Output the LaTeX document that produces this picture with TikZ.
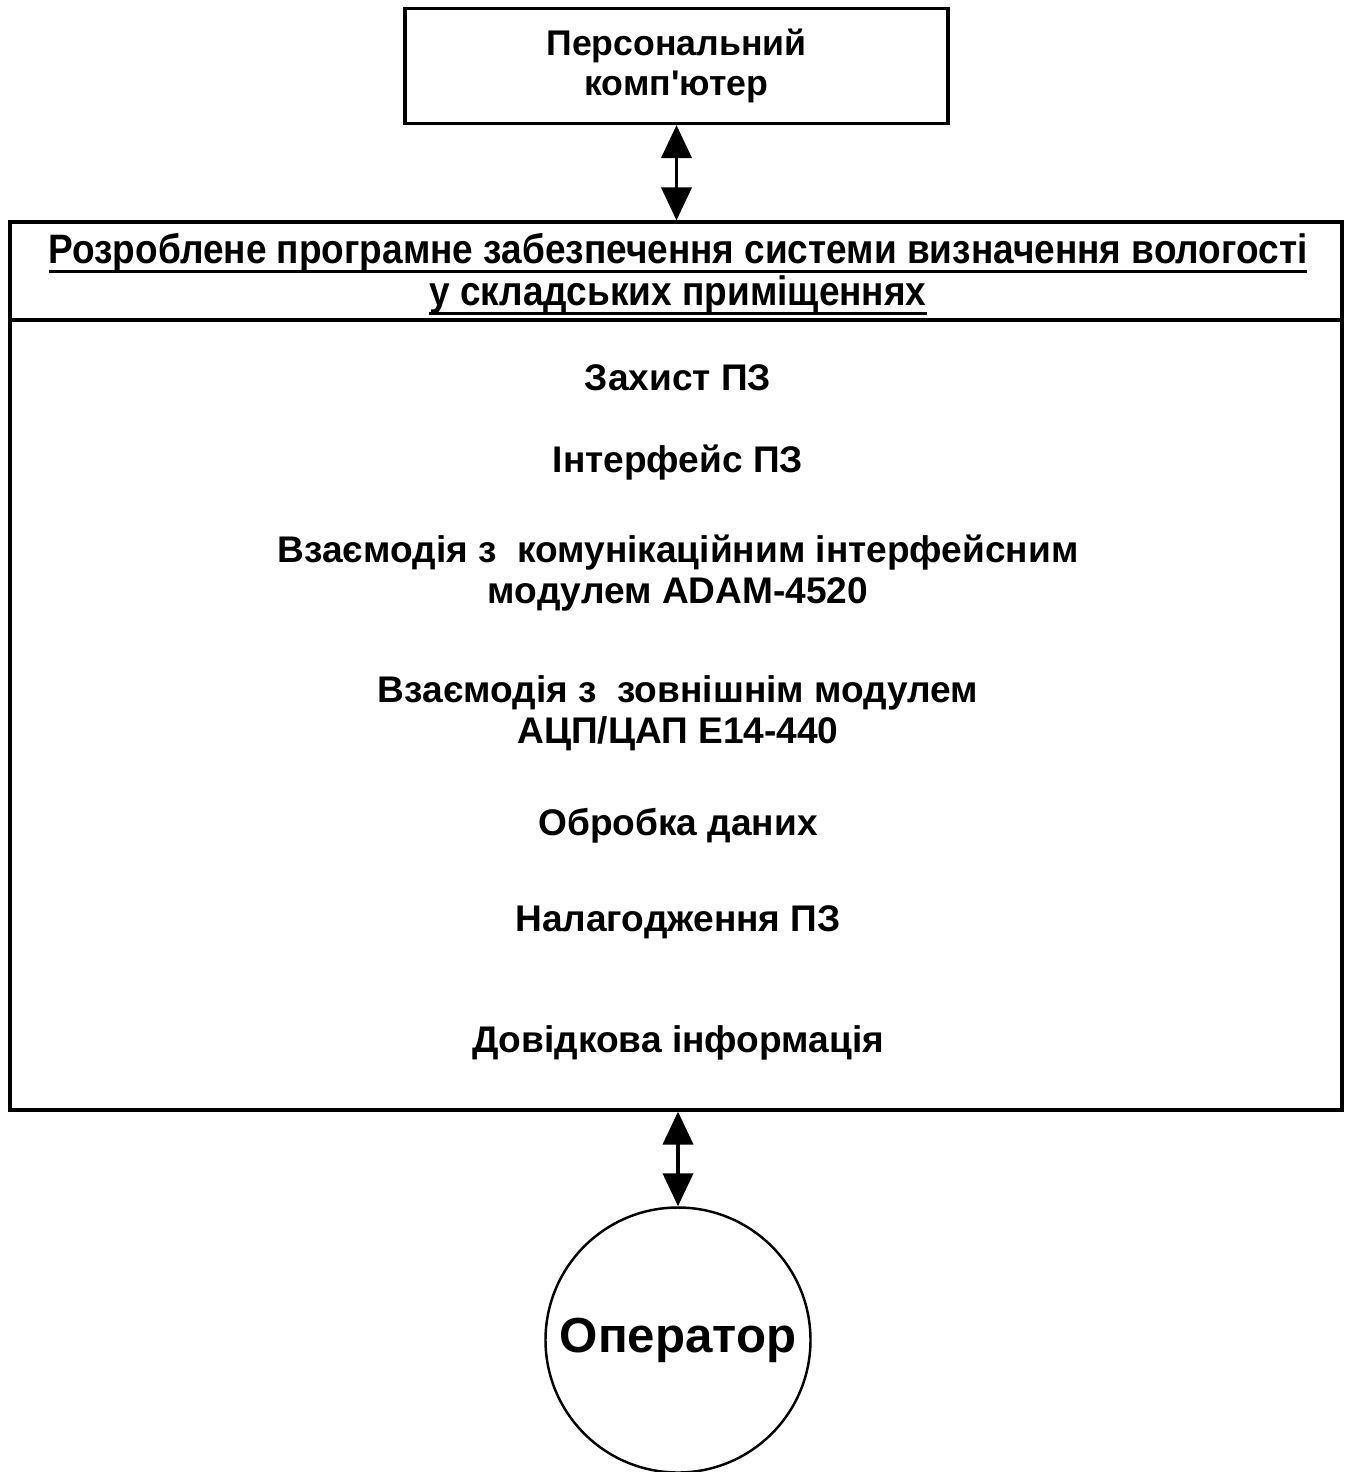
\documentclass[tikz,border=0pt]{standalone}
\usepackage{fontspec}
\setmainfont{Liberation Sans}[Ligatures=TeXOff]
\newfontfamily\narrowfont[FakeStretch=0.9]{Liberation Sans}
\newcommand\undl[1]{\setbox0=\hbox{#1}\rlap{\smash{\raisebox{-2.8pt}{\rule{\wd0}{0.85pt}}}}\box0}
\usetikzlibrary{arrows.meta}
\begin{document}
\begin{tikzpicture}[<->,>={Triangle[width=0.30cm,length=0.33cm]},font=\bfseries,
    box/.style={draw,line width=0.9pt,inner sep=0pt},
    item/.style={align=center,font=\fontsize{10.55}{11.7}\selectfont\bfseries}]
                \useasboundingbox (0,0) rectangle (13.48,-14.72);
                \node[box,minimum width=5.43cm,minimum height=1.15cm,align=center,
                      font=\fontsize{10.15}{11.2}\selectfont\bfseries] (pc) at (6.765,-0.66)
                      {Персональний\\комп'ютер};
                \node[box,minimum width=13.32cm,minimum height=8.88cm] (soft) at (6.76,-6.66) {};
                \coordinate (sepLeft) at (0.10,-3.20);
                \coordinate (sepRight) at (13.42,-3.20);
                \draw[-,line width=0.9pt] (sepLeft)--(sepRight);
                \node[align=center,font=\narrowfont\fontsize{11.7}{11.9}\selectfont\bfseries] (title) at (6.78,-2.735)
                      {\undl{Розроблене програмне забезпечення системи визначення вологості}\\
                       \undl{у складських приміщеннях}};
                \node[item] (protect) at (6.78,-3.78) {Захист ПЗ};
                \node[item] (iface) at (6.78,-4.63) {Інтерфейс ПЗ};
                \node[item] (adam) at (6.78,-5.73) {Взаємодія з \ комунікаційним інтерфейсним\\модулем ADAM-4520};
                \node[item] (adc) at (6.78,-7.13) {Взаємодія з \ зовнішнім модулем\\АЦП/ЦАП Е14-440};
                \node[item] (proc) at (6.78,-8.26) {Обробка даних};
                \node[item] (debug) at (6.78,-9.22) {Налагодження ПЗ};
                \node[item] (help) at (6.78,-10.43) {Довідкова інформація};
                \node[draw,circle,line width=0.7pt,minimum size=2.65cm,inner sep=0pt,
                      font=\fontsize{14}{17}\selectfont\bfseries] (op) at (6.78,-13.40) {Оператор};
                \draw[line width=1.1pt] (pc.south)--(pc.south |- soft.north);
                \draw[line width=1.1pt] (soft.south -| op.north)--(op.north);
            \end{tikzpicture}
\end{document}
